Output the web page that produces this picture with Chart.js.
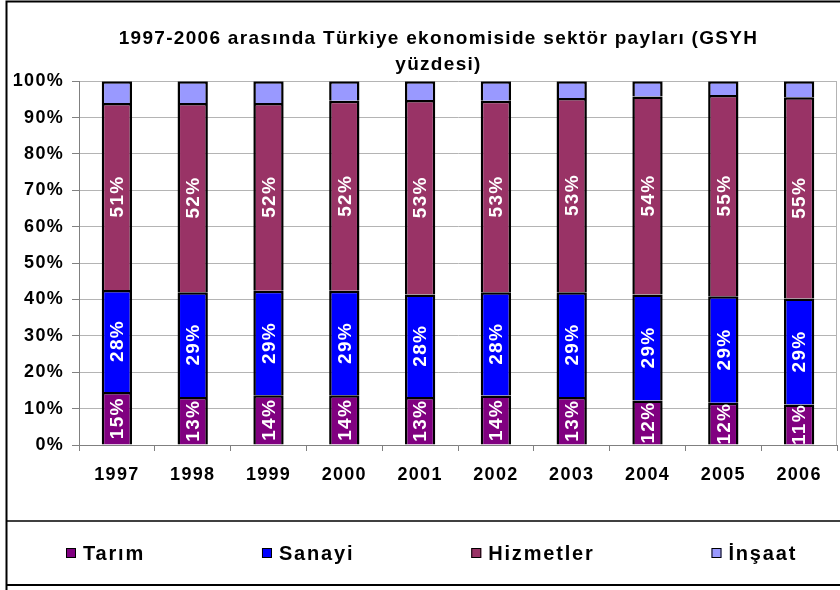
<!DOCTYPE html>
<html>
<head>
<meta charset="utf-8">
<script src="https://cdn.jsdelivr.net/npm/chart.js@4.4.1/dist/chart.umd.min.js"></script>
<style>
  html, body { margin: 0; padding: 0; background: #fff; }
</style>
</head>
<body>
<canvas id="chart" width="840" height="590"></canvas>
<script>
const years = ['1997', '1998', '1999', '2000', '2001', '2002', '2003', '2004', '2005', '2006'];
const tarim = [14.6, 13.2, 13.7, 13.7, 13.2, 13.6, 13.2, 12.2, 11.6, 11.1];
const sanayi = [28.0, 28.8, 28.7, 28.7, 28.2, 28.4, 28.8, 29.2, 29.3, 29.2];
const hizmetler = [51.4, 52.0, 51.6, 52.2, 53.4, 52.6, 53.4, 54.4, 55.3, 55.3];
const insaat = [6.0, 6.0, 6.0, 5.4, 5.2, 5.4, 4.6, 4.2, 3.8, 4.4];
const seriesNames = ['Tarım', 'Sanayi', 'Hizmetler', 'İnşaat'];
const seriesColors = ['#800080', '#0000ff', '#993366', '#9999ff'];
const labelledSeries = [0, 1, 2]; // no value labels on İnşaat
const yTicks = [0, 10, 20, 30, 40, 50, 60, 70, 80, 90, 100];
const titleLines = ['1997-2006 arasında Türkiye ekonomiside sektör payları (GSYH', 'yüzdesi)'];

const FONT = "'Liberation Sans', Arial, sans-serif";
const SPACING = '1.3px'; // the original's text is a little stretched

// frame, value labels and the boxed legend, drawn like the Excel original
const excelLook = {
  id: 'excelLook',
  afterLayout(chart) {
    // title in the original is centred a bit right of the canvas middle
    chart.titleBlock.left += 16;
    chart.titleBlock.right += 16;
  },
  beforeDraw(chart) {
    const ctx = chart.ctx;
    ctx.save();
    ctx.fillStyle = '#fff';
    ctx.fillRect(0, 0, chart.width, chart.height);
    ctx.strokeStyle = '#000';
    ctx.lineWidth = 2;
    ctx.beginPath();
    ctx.moveTo(6.5, 590); ctx.lineTo(6.5, 1.5); ctx.lineTo(840, 1.5);
    ctx.moveTo(6.5, 585); ctx.lineTo(840, 585);
    ctx.stroke();
    ctx.lineWidth = 1.5;
    ctx.beginPath();
    ctx.moveTo(6.5, 521); ctx.lineTo(840, 521);
    ctx.stroke();
    ctx.restore();
    ctx.letterSpacing = SPACING;
  },
  beforeDatasetsDraw(chart) {
    const ctx = chart.ctx, a = chart.chartArea;
    ctx.save();
    ctx.strokeStyle = '#b4b4b4';
    ctx.lineWidth = 1;
    ctx.beginPath();
    ctx.moveTo(Math.round(a.right) - 0.5, a.top);
    ctx.lineTo(Math.round(a.right) - 0.5, a.bottom);
    ctx.stroke();
    ctx.restore();
  },
  afterDatasetsDraw(chart) {
    const ctx = chart.ctx, a = chart.chartArea;
    ctx.save();
    ctx.beginPath();
    ctx.rect(a.left, a.top, a.right - a.left, a.bottom - a.top);
    ctx.clip();
    ctx.font = 'bold 19px ' + FONT;
    ctx.fillStyle = '#fff';
    ctx.textAlign = 'center';
    ctx.textBaseline = 'middle';
    labelledSeries.forEach(di => {
      const vals = chart.data.datasets[di].data;
      chart.getDatasetMeta(di).data.forEach((bar, j) => {
        const p = bar.getProps(['x', 'y', 'base'], true);
        ctx.save();
        ctx.translate(p.x + 1, (p.y + p.base) / 2);
        ctx.rotate(-Math.PI / 2);
        ctx.fillText(Math.round(vals[j]) + '%', 0, 0);
        ctx.restore();
      });
    });
    ctx.restore();
  },
  afterDraw(chart) {
    const ctx = chart.ctx;
    ctx.save();
    ctx.font = 'bold 20px ' + FONT;
    ctx.letterSpacing = '1.8px';
    ctx.textBaseline = 'middle';
    const box = 10, textGap = 7, gap = 117;
    const ds = chart.data.datasets;
    const widths = ds.map(d => box + textGap + ctx.measureText(d.label).width);
    const total = widths.reduce((s, w) => s + w, 0) + gap * (ds.length - 1);
    let x = Math.round(432 - total / 2);
    const y = 553;
    ds.forEach((d, i) => {
      ctx.fillStyle = d.backgroundColor;
      ctx.fillRect(x, y - 5, box, box);
      ctx.strokeStyle = '#000';
      ctx.lineWidth = 1;
      ctx.strokeRect(x + 0.5, y - 4.5, box - 1, box - 1);
      ctx.fillStyle = '#000';
      ctx.fillText(d.label, x + box + textGap, y + 1);
      x += widths[i] + gap;
    });
    ctx.restore();
  }
};

const seriesData = [tarim, sanayi, hizmetler, insaat];
const tickFont = { family: FONT, size: 18, weight: 'bold' };

new Chart(document.getElementById('chart'), {
  type: 'bar',
  data: {
    labels: years,
    datasets: seriesNames.map((name, i) => ({
      label: name,
      data: seriesData[i],
      backgroundColor: seriesColors[i],
      borderColor: '#000',
      borderWidth: 2.5,
      borderSkipped: 'start',
      barPercentage: 0.4,
      categoryPercentage: 1
    }))
  },
  options: {
    responsive: false,
    animation: false,
    layout: { padding: { left: 8, right: 3, top: 0, bottom: 0 } },
    plugins: {
      legend: { display: false },
      tooltip: { enabled: false },
      title: {
        display: true,
        text: titleLines,
        color: '#000',
        font: { family: FONT, size: 19, weight: 'bold', lineHeight: 1.4 },
        padding: { top: 25, bottom: 3 }
      }
    },
    scales: {
      x: {
        stacked: true,
        grid: { drawOnChartArea: false, tickLength: 6, color: '#808080' },
        border: { color: '#808080' },
        ticks: { color: '#000', font: tickFont, padding: 13, maxRotation: 0 },
        afterFit(s) { s.height = 145; }
      },
      y: {
        stacked: true,
        min: 0,
        max: 100,
        afterBuildTicks(s) { s.ticks = yTicks.map(v => ({ value: v })); },
        ticks: { callback: v => v + '%', color: '#000', font: tickFont, padding: 8 },
        grid: { color: '#b4b4b4', tickLength: 7, tickColor: '#808080' },
        border: { color: '#808080' },
        afterFit(s) { s.width = 71; }
      }
    }
  },
  plugins: [excelLook]
});
</script>
</body>
</html>
